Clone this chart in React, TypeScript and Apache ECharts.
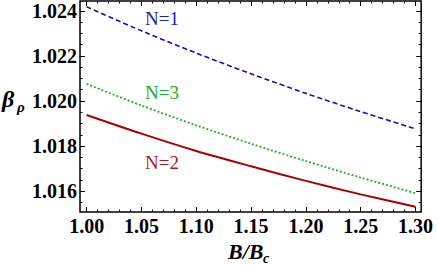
import React, { useEffect, useRef } from "react";
import * as echarts from "echarts";

// Data
const B = [1.0, 1.05, 1.1, 1.15, 1.2, 1.25, 1.3];
const betaN1 = [1.02419, 1.02312, 1.02213, 1.02121, 1.02034, 1.01953, 1.01876];
const betaN3 = [1.02076, 1.0198, 1.01892, 1.0181, 1.01733, 1.0166, 1.0159];
const betaN2 = [1.01938, 1.01855, 1.01778, 1.0171, 1.01645, 1.01585, 1.0153];

const xMajor = [1.0, 1.05, 1.1, 1.15, 1.2, 1.25, 1.3];
const yMajor = [1.016, 1.018, 1.02, 1.022, 1.024];
const xMinor: number[] = [];
for (let i = 100; i <= 130; i++) xMinor.push(i / 100);
const yMinor: number[] = [];
for (let i = 10155; i <= 10240; i += 5) yMinor.push(i / 10000);

const X_MIN = 0.99394;
const X_MAX = 1.30516;
const Y_MIN = 1.015067;
const Y_MAX = 1.024444;

const SERIF = "Liberation Serif";

export default function App() {
  const ref = useRef<HTMLDivElement>(null);
  useEffect(() => {
    if (!ref.current) return;
    const chart = echarts.init(ref.current, undefined, { renderer: "svg" });
    const tickStyle = { color: "#000", width: 1 };
    const xAx = (pos: "bottom" | "top", vals: number[], len: number, labels: boolean) => ({
      type: "value",
      position: pos,
      min: X_MIN,
      max: X_MAX,
      axisLine: { show: false },
      splitLine: { show: false },
      axisTick: { show: true, inside: true, length: len, customValues: vals, lineStyle: tickStyle },
      axisLabel: labels
        ? {
            show: true,
            customValues: xMajor,
            formatter: (v: number) => v.toFixed(2),
            fontSize: 20,
            fontWeight: "bold",
            fontFamily: SERIF,
            color: "#000",
            margin: 4,
          }
        : { show: false },
    });
    const yAx = (pos: "left" | "right", vals: number[], len: number, labels: boolean) => ({
      type: "value",
      position: pos,
      min: Y_MIN,
      max: Y_MAX,
      axisLine: { show: false },
      splitLine: { show: false },
      axisTick: { show: true, inside: true, length: len, customValues: vals, lineStyle: tickStyle },
      axisLabel: labels
        ? {
            show: true,
            customValues: yMajor,
            formatter: (v: number) => v.toFixed(3),
            fontSize: 20,
            fontWeight: "bold",
            fontFamily: SERIF,
            color: "#000",
            margin: 3,
          }
        : { show: false },
    });
    const mk = (vals: number[]) => B.map((b, i) => [b, vals[i]]);
    const txt = (text: string, x: number, y: number, size: number, fill: string, style = "normal", weight = "normal") => ({
      type: "text",
      x,
      y,
      style: {
        text,
        fill,
        fontSize: size,
        fontFamily: SERIF,
        fontStyle: style,
        fontWeight: weight,
        verticalAlign: "top",
        align: "left",
      },
    });
    chart.setOption({
      animation: false,
      backgroundColor: "#fff",
      grid: {
        left: 80,
        right: 12,
        top: 1,
        bottom: 53,
        show: true,
        borderColor: "#000",
        borderWidth: 1.5,
        backgroundColor: "transparent",
      },
      xAxis: [
        xAx("bottom", xMajor, 5, true),
        xAx("bottom", xMinor, 2.5, false),
        xAx("top", xMajor, 5, false),
        xAx("top", xMinor, 2.5, false),
      ],
      yAxis: [
        yAx("left", yMajor, 5, true),
        yAx("left", yMinor, 2.5, false),
        yAx("right", yMajor, 5, false),
        yAx("right", yMinor, 2.5, false),
      ],
      series: [
        {
          name: "N=1",
          type: "line",
          data: mk(betaN1),
          showSymbol: false,
          smooth: 0.3,
          lineStyle: { color: "#1414a0", width: 1.6, type: [5, 3] },
        },
        {
          name: "N=3",
          type: "line",
          data: mk(betaN3),
          showSymbol: false,
          smooth: 0.3,
          lineStyle: { color: "#1db31d", width: 1.8, type: [2, 2] },
        },
        {
          name: "N=2",
          type: "line",
          data: mk(betaN2),
          showSymbol: false,
          smooth: 0.3,
          lineStyle: { color: "#a80000", width: 2 },
        },
      ],
      graphic: [
        txt("N=1", 145, 9, 19, "#2020a0"),
        txt("N=3", 145, 83, 19, "#22aa22"),
        txt("N=2", 145, 153, 19, "#b01818"),
        txt("β", 2, 87, 24, "#000", "italic", "bold"),
        txt("ρ", 17, 99, 15, "#000", "italic", "bold"),
        txt("B/B", 228, 240, 22, "#000", "italic", "bold"),
        txt("c", 263, 251, 14, "#000", "italic", "bold"),
      ],
    });
    return () => chart.dispose();
  }, []);
  return (
    <div
      ref={ref}
      style={{ position: "fixed", left: 0, top: 0, width: 436, height: 265 }}
    />
  );
}
